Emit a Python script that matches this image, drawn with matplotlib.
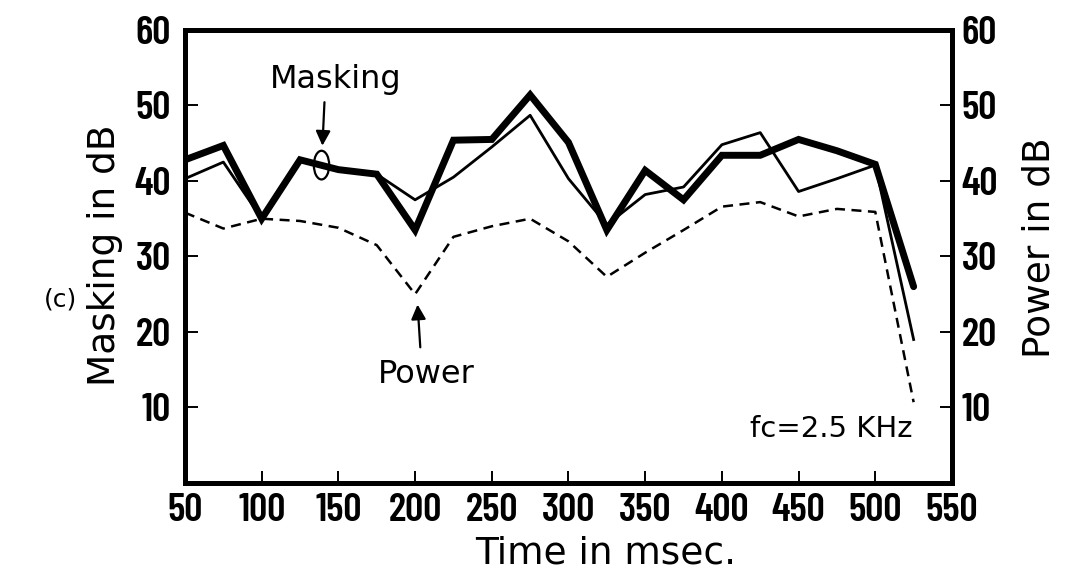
import matplotlib
matplotlib.use("Agg")
import matplotlib.pyplot as plt
from matplotlib.patches import Ellipse

time_ms = [50, 75, 100, 125, 150, 175, 200, 225, 250, 275,
           300, 325, 350, 375, 400, 425, 450, 475, 500, 525]
masking_thick = [42.8, 44.7, 35.0, 42.8, 41.5, 40.9, 33.5, 45.4, 45.5, 51.4,
                 45.1, 33.5, 41.4, 37.5, 43.4, 43.4, 45.5, 44.0, 42.2, 26.0]
masking_thin = [40.3, 42.5, 35.0, 42.8, 41.5, 40.9, 37.5, 40.5, 44.5, 48.7,
                40.3, 34.2, 38.2, 39.2, 44.8, 46.4, 38.6, 40.3, 42.1, 19.0]
power = [35.8, 33.7, 35.0, 34.7, 33.8, 31.5, 25.0, 32.6, 34.0, 35.0,
         32.0, 27.3, 30.5, 33.5, 36.6, 37.2, 35.3, 36.3, 35.9, 10.7]
x_ticks = [50, 100, 150, 200, 250, 300, 350, 400, 450, 500, 550]
y_ticks = [10, 20, 30, 40, 50, 60]

TICK_FONT = dict(family=['Barlow Condensed', 'DejaVu Sans'], weight=600, size=29)
LABEL_FAMILY = ['DejaVu Sans']

fig = plt.figure(figsize=(10.7, 5.76), dpi=100)
ax = fig.add_axes([0.1729, 0.1615, 0.7168, 0.7865])

ax.plot(time_ms, masking_thick, color='black', lw=5.0, solid_joinstyle='miter',
        solid_capstyle='round')
ax.plot(time_ms, masking_thin, color='black', lw=2.0)
ax.plot(time_ms, power, color='black', lw=1.8, dashes=(4, 2.6))

ax.set_xlim(50, 550)
ax.set_ylim(0, 60)
ax.set_xticks(x_ticks)
ax.set_yticks(y_ticks)
ax.set_xticklabels([str(v) for v in x_ticks], fontdict=TICK_FONT)
ax.set_yticklabels([str(v) for v in y_ticks], fontdict=TICK_FONT)
for s in ax.spines.values():
    s.set_linewidth(3.6)

ax.tick_params(axis='both', direction='in', length=9, width=1.4)
ax.tick_params(axis='x', pad=7)
ax.tick_params(axis='y', pad=10)

ax2 = ax.twinx()
ax2.set_ylim(0, 60)
ax2.set_yticks(y_ticks)
ax2.set_yticklabels([str(v) for v in y_ticks], fontdict=TICK_FONT)
ax2.tick_params(axis='y', direction='in', length=9, width=1.4, pad=7)
for s in ax2.spines.values():
    s.set_linewidth(3.6)

# axis titles
fig.text(606 / 1070, 1 - 554 / 576, 'Time in msec.', fontsize=27,
         family=LABEL_FAMILY, ha='center', va='center')
fig.text(105 / 1070, 1 - 255 / 576, 'Masking in dB', fontsize=27,
         family=LABEL_FAMILY, ha='center', va='center', rotation=90)
fig.text(1039 / 1070, 1 - 248 / 576, 'Power in dB', fontsize=27,
         family=LABEL_FAMILY, ha='center', va='center', rotation=90)

# annotations
ax.text(148, 53.4, 'Masking', fontsize=23, family=LABEL_FAMILY,
        ha='center', va='center')
ax.annotate('', xy=(139.5, 44.3), xytext=(141, 50.8),
            arrowprops=dict(arrowstyle='-|>', color='black', lw=1.6,
                            mutation_scale=22))
ax.add_patch(Ellipse((139, 42.1), 10, 3.8, fill=False, lw=1.6, color='black'))

ax.text(207.5, 14.4, 'Power', fontsize=23, family=LABEL_FAMILY,
        ha='center', va='center')
ax.annotate('', xy=(201.5, 24.0), xytext=(203.5, 17.6),
            arrowprops=dict(arrowstyle='-|>', color='black', lw=1.6,
                            mutation_scale=22))

ax.text(471, 7.2, 'fc=2.5 KHz', fontsize=21, family=LABEL_FAMILY,
        ha='center', va='center')

fig.text(60 / 1070, 1 - 300 / 576, '(c)', fontsize=18, family=LABEL_FAMILY,
         ha='center', va='center')

fig.savefig('out.png', dpi=100)
